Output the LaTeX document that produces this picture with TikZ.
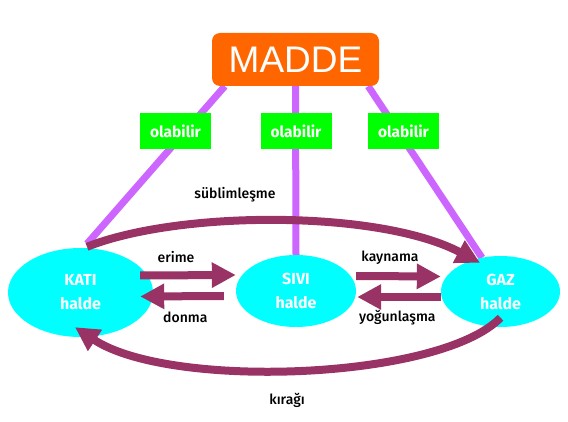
\documentclass[tikz,border=0pt]{standalone}
\usepackage{fontspec}
\setmainfont{Fira Sans}
\newfontfamily\arialfont{Liberation Sans}
\newfontfamily\etiketfont{Fira Sans Medium}
\usepackage{tikz}
\usetikzlibrary{calc}
\usetikzlibrary{arrows.meta,shapes.geometric,backgrounds}
\definecolor{turuncu}{HTML}{FF6600}
\definecolor{yesil}{HTML}{00FF00}
\definecolor{camgobegi}{HTML}{00FFFF}
\definecolor{mor}{HTML}{CC66FF}
\definecolor{bordo}{HTML}{993366}

\begin{document}
\begin{tikzpicture}[x=1pt,y=-1pt,>={Triangle[length=24pt,width=24pt]},
                    font=\etiketfont\fontsize{14}{16}\selectfont]
  \tikzstyle{hal}=[ellipse,fill=camgobegi,draw=none,text=white,inner sep=0pt,
                   align=center,font=\rmfamily\bfseries\fontsize{16}{24}\selectfont]
  \tikzstyle{kutu}=[fill=yesil,text=white,inner sep=0pt,minimum width=71pt,
                    minimum height=36pt,font=\rmfamily\bfseries\fontsize{15.5}{17}\selectfont]
  \tikzstyle{ok}=[->,line width=8pt,draw=bordo]
  \tikzstyle{bag}=[line width=7pt,draw=mor]

  \useasboundingbox (0,0) rectangle (568,422);

  \node[fill=turuncu,rounded corners=8pt,minimum width=167pt,minimum height=53pt,
        text=white,font=\arialfont\fontsize{37}{37}\selectfont] (M) at (295.5,59.5) {MADDE};
  \node[hal,minimum width=145pt,minimum height=89pt] (K) at (80.5,292.5) {KATI\\halde};
  \node[hal,minimum width=120pt,minimum height=72pt] (S) at (296,291)    {SIVI\\halde};
  \node[hal,minimum width=119pt,minimum height=71pt] (G) at (500.5,291.5) {GAZ\\halde};

  \begin{scope}[on background layer]
    \draw[bag] ([shift={(13,0)}]M.south west) -- ([shift={(6.5,-4)}]K.north);
    \draw[bag] (M.south) -- (S.north);
    \draw[bag] ([shift={(-11,0)}]M.south east) -- ([shift={(-18.5,2)}]G.north);
  \end{scope}

  \node[kutu] (O1) at (175.5,131) {olabilir};
  \node[kutu] (O2) at (296,131)   {olabilir};
  \node[kutu] (O3) at (403.5,131) {olabilir};

  \draw[ok] ([shift={(-13,-17)}]K.east) -- node[pos=.375,yshift=18.5pt,text=black] {erime} ([shift={(0,-16)}]S.west);
  \draw[ok] ([shift={(-12,5)}]S.west) -- node[pos=.46,yshift=-21.5pt,text=black] {donma} ([shift={(-13,4)}]K.east);
  \draw[ok] ([shift={(0,-15)}]S.east) -- node[pos=.4,yshift=18pt,text=black] {kaynama} ([shift={(0,-15)}]G.west);
  \draw[ok] ([shift={(0,5.5)}]G.west) -- node[pos=.52,yshift=-21pt,text=black] {yoğunlaşma} ([shift={(1,6)}]S.east);

  \draw[ok] ([shift={(6.5,-1)}]K.north) .. controls (180,210) and (380,210) .. ([shift={(-20.5,7)}]G.north);
  \draw[ok] ([shift={(0,-9.5)}]G.south) .. controls (440,380) and (170,390) .. ([shift={(-5.5,-10)}]K.south);

  \node (L1) at (235,195) {süblimleşme};
  \node (L2) at (287,400) {kırağı};
\end{tikzpicture}
\end{document}
